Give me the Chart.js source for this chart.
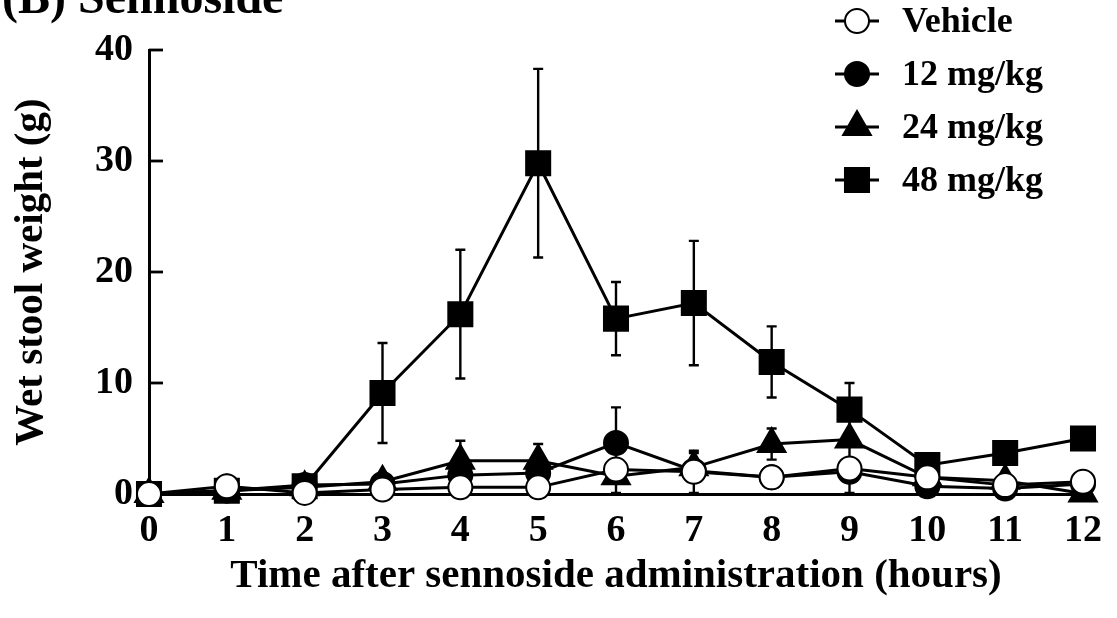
<!DOCTYPE html>
<html>
<head>
<meta charset="utf-8">
<script src="https://cdn.jsdelivr.net/npm/chart.js@4"></script>
<style>
  html, body { margin: 0; padding: 0; background: #fff; overflow: hidden; }
  #wrap { width: 1117px; height: 618px; position: relative; }
</style>
</head>
<body>
<div id="wrap"><canvas id="myChart" width="1117" height="618"></canvas></div>
<script>
var hours = ["0", "1", "2", "3", "4", "5", "6", "7", "8", "9", "10", "11", "12"];
var yTicks = [0, 10, 20, 30, 40];

var seriesNames = ["Vehicle", "12 mg/kg", "24 mg/kg", "48 mg/kg"];

// mean wet stool weight (g) per hour
var vehicle = [0, 0.7, 0.1, 0.4, 0.6, 0.6, 2.2, 2.0, 1.5, 2.3, 1.5, 0.8, 1.1];
var dose12  = [0, 0.3, 0.8, 0.9, 1.7, 1.9, 4.6, 2.1, 1.5, 2.0, 0.7, 0.5, 0.9];
var dose24  = [0, 0.3, 0.6, 1.1, 3.0, 3.0, 1.6, 2.4, 4.5, 4.9, 1.5, 1.2, 0.05];
var dose48  = [0, 0.3, 0.7, 9.1, 16.2, 29.8, 15.8, 17.2, 11.9, 7.6, 2.6, 3.7, 5.0];

// error bars (SEM)
var vehicleErr = [0, 0, 0, 0, 0, 0, 0, 1.9, 0, 2.2, 0, 0, 0];
var dose12Err  = [0, 0, 0, 0, 0, 0, 3.2, 0, 0, 0, 0, 0, 0];
var dose24Err  = [0, 0, 0, 0, 1.8, 1.5, 1.5, 1.3, 1.4, 0, 0, 0, 0];
var dose48Err  = [0, 0, 0, 4.5, 5.8, 8.5, 3.3, 5.6, 3.2, 2.4, 0.4, 0.5, 0.6];

var serif = "'Liberation Serif', 'Times New Roman', serif";

function makeSet(label, data, err, style, radius, fill) {
    return {
        label: label,
        data: data,
        errors: err,
        borderColor: "#000",
        borderWidth: 3,
        pointStyle: style,
        pointRadius: radius,
        pointHoverRadius: radius,
        pointBackgroundColor: fill,
        pointBorderColor: "#000",
        pointBorderWidth: 2,
        tension: 0,
        clip: false
    };
}

// vertical error bars with caps, under the markers
var errorBars = {
    id: "errorBars",
    beforeDatasetsDraw: function(chart) {
        var ctx = chart.ctx;
        var ys = chart.scales.y;
        ctx.save();
        ctx.strokeStyle = "#000";
        ctx.lineWidth = 2.4;
        chart.data.datasets.forEach(function(ds, i) {
            var meta = chart.getDatasetMeta(i);
            ds.data.forEach(function(v, j) {
                var e = ds.errors[j];
                if (!e) return;
                var x = meta.data[j].x;
                var top = ys.getPixelForValue(v + e);
                var bot = ys.getPixelForValue(v - e);
                ctx.beginPath();
                ctx.moveTo(x, top); ctx.lineTo(x, bot);
                ctx.moveTo(x - 5, top); ctx.lineTo(x + 5, top);
                ctx.moveTo(x - 5, bot); ctx.lineTo(x + 5, bot);
                ctx.stroke();
            });
        });
        ctx.restore();
    }
};

// tick marks pointing into the plot on the y axis
var innerTicks = {
    id: "innerTicks",
    afterDraw: function(chart) {
        var ctx = chart.ctx;
        var ys = chart.scales.y;
        var left = chart.chartArea.left;
        ctx.save();
        ctx.strokeStyle = "#000";
        ctx.lineWidth = 2.8;
        yTicks.forEach(function(t) {
            if (t === 0) return;
            var y = ys.getPixelForValue(t);
            ctx.beginPath();
            ctx.moveTo(left, y); ctx.lineTo(left + 14, y);
            ctx.stroke();
        });
        ctx.restore();
    }
};

// panel heading and the legend block in the upper right
var panelText = {
    id: "panelText",
    afterDraw: function(chart) {
        var ctx = chart.ctx;
        ctx.save();
        ctx.fillStyle = "#000";
        ctx.textBaseline = "alphabetic";
        ctx.font = "bold 48px " + serif;
        ctx.fillText("(B) Sennoside", 2, 13);

        ctx.font = "bold 36px " + serif;
        ctx.textBaseline = "middle";
        chart.data.datasets.forEach(function(ds, i) {
            var y = 21 + i * 53;
            ctx.strokeStyle = "#000";
            ctx.lineWidth = 3;
            ctx.beginPath();
            ctx.moveTo(835, y); ctx.lineTo(879, y);
            ctx.stroke();
            ctx.fillStyle = ds.pointBackgroundColor;
            ctx.lineWidth = 2;
            Chart.helpers.drawPoint(ctx, {
                pointStyle: ds.pointStyle,
                radius: ds.pointRadius,
                rotation: 0,
                borderWidth: 2
            }, 857, y);
            ctx.fillStyle = "#000";
            ctx.fillText(ds.label, 902, y + 2);
        });
        ctx.restore();
    }
};

window.onload = function() {
    var ctx = document.getElementById("myChart");
    new Chart(ctx, {
        type: "line",
        data: {
            labels: hours,
            datasets: [
                makeSet(seriesNames[0], vehicle, vehicleErr, "circle", 12, "#fff"),
                makeSet(seriesNames[1], dose12, dose12Err, "circle", 12, "#000"),
                makeSet(seriesNames[2], dose24, dose24Err, "triangle", 16, "#000"),
                makeSet(seriesNames[3], dose48, dose48Err, "rect", 17, "#000")
            ]
        },
        options: {
            responsive: false,
            animation: false,
            events: [],
            layout: { padding: { left: 0, top: 50, right: 34, bottom: 0 } },
            plugins: {
                legend: { display: false },
                tooltip: { enabled: false }
            },
            scales: {
                x: {
                    type: "category",
                    offset: false,
                    grid: { display: false, drawTicks: false },
                    border: { display: true, color: "#000", width: 3 },
                    ticks: {
                        color: "#000",
                        padding: 14,
                        maxRotation: 0,
                        autoSkip: false,
                        font: { family: serif, size: 38, weight: "bold" }
                    },
                    title: {
                        display: true,
                        text: "Time after sennoside administration (hours)",
                        color: "#000",
                        padding: { top: 0, bottom: 17 },
                        font: { family: serif, size: 41, weight: "bold" }
                    },
                    afterFit: function(scale) { scale.height = 124; }
                },
                y: {
                    min: 0,
                    max: 40,
                    afterBuildTicks: function(scale) {
                        scale.ticks = yTicks.map(function(v) { return { value: v }; });
                    },
                    grid: { display: false, drawTicks: false },
                    border: { display: true, color: "#000", width: 3 },
                    ticks: {
                        color: "#000",
                        padding: 16,
                        font: { family: serif, size: 38, weight: "bold" }
                    },
                    title: {
                        display: true,
                        text: "Wet stool weight (g)",
                        color: "#000",
                        padding: { top: 7, bottom: 0 },
                        font: { family: serif, size: 41, weight: "bold" }
                    },
                    afterFit: function(scale) { scale.width = 149; }
                }
            }
        },
        plugins: [errorBars, innerTicks, panelText]
    });
};
</script>
</body>
</html>
